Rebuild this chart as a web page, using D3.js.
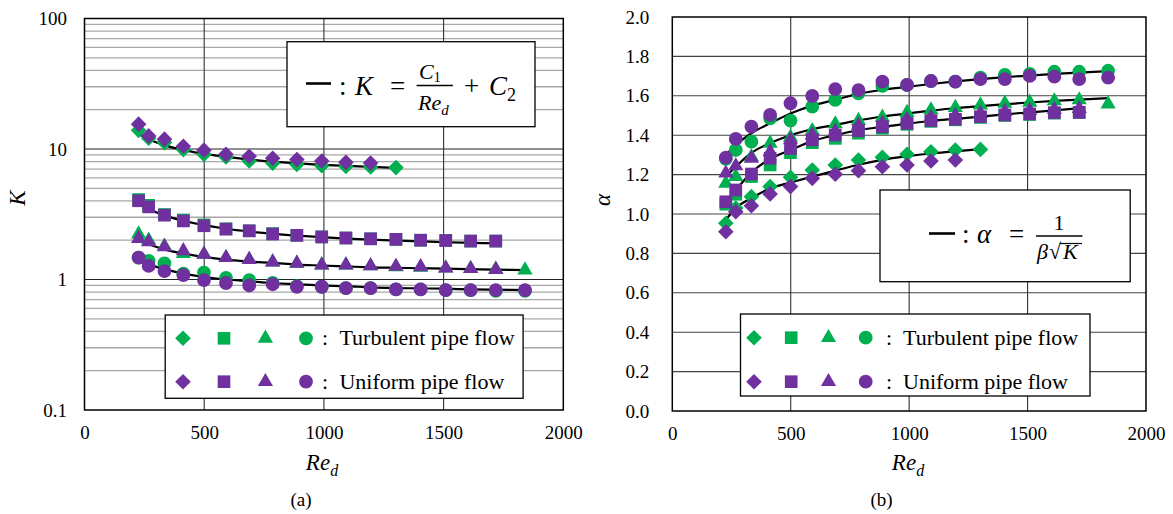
<!DOCTYPE html>
<html>
<head>
<meta charset="utf-8">
<script src="https://cdn.jsdelivr.net/npm/d3@7"></script>
<style>
  html, body { margin: 0; padding: 0; background: #fff; }
  svg text { font-family: "Liberation Serif", "Times New Roman", serif; fill: #000; }
</style>
</head>
<body>
<div id="chart"></div>
<script>
// Re_d positions shared by every series
const reX = [226, 268, 334, 413, 499, 591, 688, 786, 887, 991, 1092, 1195, 1301, 1404, 1509, 1613, 1718, 1840];

// (a) K values — turbulent (green) and uniform (purple) pipe flow
const kDiamondTurb = [13.9, 12.1, 11.2, 9.9, 9.1, 8.7, 8.1, 7.8, 7.62, 7.45, 7.35, 7.28, 7.2];
const kDiamondUnif = [15.5, 12.6, 11.9, 10.5, 9.8, 9.1, 8.8, 8.5, 8.3, 8.1, 7.9, 7.8];
const kSquareTurb  = [4.1, 3.7, 3.15, 2.86, 2.62, 2.45, 2.36, 2.25, 2.18, 2.12, 2.08, 2.05, 2.03, 2.0, 1.99, 1.97, 1.97];
const kSquareUnif  = [4.01, 3.6, 3.11, 2.81, 2.58, 2.43, 2.36, 2.23, 2.18, 2.12, 2.08, 2.05, 2.03, 2.0, 1.99, 1.97, 1.97];
const kTriTurb     = [2.23, 2.0, 1.8, 1.58, 1.56, 1.47, 1.42, 1.36, 1.33, 1.29, 1.29, 1.27, 1.25, 1.24, 1.22, 1.21, 1.2, 1.18];
const kTriUnif     = [2.06, 1.94, 1.78, 1.66, 1.56, 1.47, 1.42, 1.36, 1.33, 1.29, 1.29, 1.27, 1.26, 1.25, 1.22, 1.21, 1.19];
const kCircTurb    = [1.47, 1.39, 1.33, 1.11, 1.13, 1.03, 0.99, 0.94, 0.89, 0.88, 0.86, 0.86, 0.84, 0.84, 0.83, 0.83, 0.82, 0.82];
const kCircUnif    = [1.47, 1.27, 1.16, 1.08, 0.99, 0.94, 0.90, 0.92, 0.88, 0.88, 0.86, 0.86, 0.84, 0.84, 0.83, 0.83, 0.83, 0.83];

// (a) fitted curves K = C1/Re_d + C2
const kFitDiamond = [13.0, 11.9, 10.7, 9.8, 9.2, 8.7, 8.3, 8.0, 7.75, 7.56, 7.42, 7.29, 7.18];
const kFitSquare  = [3.82, 3.47, 3.10, 2.82, 2.61, 2.45, 2.33, 2.24, 2.17, 2.11, 2.06, 2.02, 1.99, 1.96, 1.93, 1.91, 1.89];
const kFitTri     = [2.0, 1.86, 1.70, 1.58, 1.49, 1.42, 1.37, 1.34, 1.30, 1.28, 1.26, 1.24, 1.23, 1.22, 1.21, 1.20, 1.19, 1.18];
const kFitCirc    = [1.41, 1.31, 1.20, 1.11, 1.05, 1.00, 0.97, 0.94, 0.92, 0.90, 0.89, 0.87, 0.86, 0.855, 0.85, 0.84, 0.835, 0.83];

// (b) alpha values
const aDiamondTurb = [0.953, 1.03, 1.088, 1.139, 1.186, 1.223, 1.249, 1.274, 1.288, 1.303, 1.316, 1.325, 1.328];
const aDiamondUnif = [0.910, 1.012, 1.042, 1.102, 1.139, 1.181, 1.202, 1.220, 1.240, 1.249, 1.269, 1.274];
const aSquareTurb  = [1.05, 1.10, 1.19, 1.249, 1.311, 1.362, 1.384, 1.41, 1.435, 1.455, 1.47, 1.478, 1.49, 1.50, 1.505, 1.512, 1.515];
const aSquareUnif  = [1.062, 1.122, 1.203, 1.283, 1.333, 1.376, 1.401, 1.423, 1.443, 1.460, 1.474, 1.481, 1.494, 1.503, 1.508, 1.514, 1.516];
const aTriTurb     = [1.156, 1.19, 1.29, 1.359, 1.389, 1.423, 1.457, 1.474, 1.491, 1.515, 1.528, 1.540, 1.553, 1.562, 1.567, 1.574, 1.579, 1.558];
const aTriUnif     = [1.207, 1.244, 1.283, 1.316, 1.376, 1.401, 1.42, 1.45, 1.46, 1.48, 1.49, 1.50, 1.51, 1.52, 1.525, 1.53, 1.535];
const aCircTurb    = [1.28, 1.325, 1.367, 1.486, 1.474, 1.545, 1.579, 1.613, 1.650, 1.655, 1.675, 1.672, 1.692, 1.706, 1.711, 1.722, 1.722, 1.727];
const aCircUnif    = [1.286, 1.381, 1.443, 1.503, 1.562, 1.599, 1.634, 1.629, 1.672, 1.655, 1.675, 1.672, 1.685, 1.685, 1.701, 1.697, 1.685, 1.692];

// (b) fitted curves alpha = 1/(beta*sqrt(K))
const aFitDiamond = [0.97, 1.03, 1.08, 1.13, 1.16, 1.19, 1.22, 1.25, 1.275, 1.293, 1.307, 1.318, 1.33];
const aFitSquare  = [1.05, 1.12, 1.21, 1.28, 1.325, 1.37, 1.40, 1.425, 1.443, 1.458, 1.472, 1.483, 1.494, 1.506, 1.516, 1.526, 1.537];
const aFitTri     = [1.19, 1.24, 1.31, 1.36, 1.40, 1.43, 1.452, 1.475, 1.495, 1.51, 1.525, 1.537, 1.548, 1.557, 1.566, 1.574, 1.581, 1.588];
const aFitCirc    = [1.30, 1.35, 1.41, 1.46, 1.51, 1.55, 1.58, 1.61, 1.63, 1.645, 1.66, 1.673, 1.685, 1.695, 1.703, 1.711, 1.718, 1.725];

const xTicks = [0, 500, 1000, 1500, 2000];
const kTicks = [0.1, 1, 10, 100];
const aTicks = [0, 0.2, 0.4, 0.6, 0.8, 1.0, 1.2, 1.4, 1.6, 1.8, 2.0];
const legendLabels = ['Turbulent pipe flow', 'Uniform pipe flow'];

const GREEN = '#00B050', PURPLE = '#7030A0';
const SERIF = '"Liberation Serif", "Times New Roman", serif';

const SYM = {
  diamond:  { type: d3.symbolSquare,   size: 122, rot: 45 },
  square:   { type: d3.symbolSquare,   size: 160, rot: 0 },
  triangle: { type: d3.symbolTriangle, size: 100, rot: 0 },
  circle:   { type: d3.symbolCircle,   size: 150, rot: 0 }
};

const svg = d3.select('#chart').append('svg')
  .attr('width', 1173).attr('height', 514)
  .style('display', 'block');
svg.append('rect').attr('width', 1173).attr('height', 514).attr('fill', '#fff');

const zip = (ys) => ys.map((v, i) => [reX[i], v]);

function drawMarkers(g, x, y, pts, shape, color) {
  const s = SYM[shape];
  const path = d3.symbol().type(s.type).size(s.size)();
  g.selectAll(null).data(pts).enter().append('path')
    .attr('d', path)
    .attr('fill', color)
    .attr('transform', d => `translate(${x(d[0])},${y(d[1])}) rotate(${s.rot})`);
}

function drawFit(g, x, y, pts) {
  g.append('path')
    .attr('d', d3.line().x(d => x(d[0])).y(d => y(d[1])).curve(d3.curveMonotoneX)(pts))
    .attr('fill', 'none').attr('stroke', '#000').attr('stroke-width', 2.2);
}

function drawLegend(g, box, mx, colonX, textX, rows) {
  g.append('rect').attr('x', box[0]).attr('y', box[1]).attr('width', box[2]).attr('height', box[3])
    .attr('fill', '#fff').attr('stroke', '#000').attr('stroke-width', 1.3);
  const shapes = ['diamond', 'square', 'triangle', 'circle'];
  [GREEN, PURPLE].forEach((c, r) => {
    shapes.forEach((sh, i) => {
      const s = SYM[sh];
      g.append('path').attr('d', d3.symbol().type(s.type).size(s.size)())
        .attr('fill', c)
        .attr('transform', `translate(${mx[i]},${rows[r]}) rotate(${s.rot})`);
    });
    g.append('text').attr('x', colonX).attr('y', rows[r] + 7).attr('font-size', 22).text(':');
    g.append('text').attr('x', textX).attr('y', rows[r] + 7).attr('font-size', 22).text(legendLabels[r]);
  });
}

function frame(g, x0, x1, y0, y1) {
  g.append('rect').attr('x', x0).attr('y', y0).attr('width', x1 - x0).attr('height', y1 - y0)
    .attr('fill', 'none').attr('stroke', '#000').attr('stroke-width', 1.5);
}

function reLabel(g, cx, y) {
  const t = g.append('text').attr('x', cx).attr('y', y).attr('text-anchor', 'middle')
    .attr('font-size', 23).attr('font-style', 'italic');
  t.append('tspan').text('Re');
  t.append('tspan').attr('font-size', 16).attr('dy', 6).text('d');
}

function styleTicks(sel) {
  sel.selectAll('text').attr('font-size', 19).attr('font-family', SERIF).attr('fill', '#000');
}

// ---------- (a) K vs Re_d ----------
{
  const x = d3.scaleLinear().domain([0, 2000]).range([84.5, 563.3]);
  const y = d3.scaleLog().domain([0.1, 100]).range([410, 18.5]);
  const g = svg.append('g');

  // minor log grid
  const minor = [];
  [0.1, 1, 10].forEach(d => { for (let m = 2; m <= 9; m++) minor.push(d * m); });
  g.selectAll(null).data(minor).enter().append('line')
    .attr('x1', x(0)).attr('x2', x(2000)).attr('y1', d => y(d)).attr('y2', d => y(d))
    .attr('stroke', '#a8a8a8').attr('stroke-width', 1.3);
  g.selectAll(null).data([1, 10]).enter().append('line')
    .attr('x1', x(0)).attr('x2', x(2000)).attr('y1', d => y(d)).attr('y2', d => y(d))
    .attr('stroke', '#222').attr('stroke-width', 1.1);
  g.selectAll(null).data([500, 1000, 1500]).enter().append('line')
    .attr('x1', d => x(d)).attr('x2', d => x(d)).attr('y1', y(0.1)).attr('y2', y(100))
    .attr('stroke', '#333').attr('stroke-width', 1.1);
  frame(g, x(0), x(2000), y(100), y(0.1));

  g.append('g').attr('transform', `translate(0,${y(0.1)})`)
    .call(d3.axisBottom(x).tickValues(xTicks).tickFormat(d3.format('d')).tickSize(0).tickPadding(16))
    .call(a => a.select('.domain').remove())
    .call(styleTicks);
  g.append('g').attr('transform', `translate(${x(0)},0)`)
    .call(d3.axisLeft(y).tickValues(kTicks).tickFormat(d => String(d)).tickSize(0).tickPadding(17.5))
    .call(a => a.select('.domain').remove())
    .call(styleTicks);

  [kFitDiamond, kFitSquare, kFitTri, kFitCirc].forEach(f => drawFit(g, x, y, zip(f)));

  drawMarkers(g, x, y, zip(kDiamondTurb), 'diamond', GREEN);
  drawMarkers(g, x, y, zip(kSquareTurb), 'square', GREEN);
  drawMarkers(g, x, y, zip(kTriTurb), 'triangle', GREEN);
  drawMarkers(g, x, y, zip(kCircTurb), 'circle', GREEN);
  drawMarkers(g, x, y, zip(kDiamondUnif), 'diamond', PURPLE);
  drawMarkers(g, x, y, zip(kSquareUnif), 'square', PURPLE);
  drawMarkers(g, x, y, zip(kTriUnif), 'triangle', PURPLE);
  drawMarkers(g, x, y, zip(kCircUnif), 'circle', PURPLE);

  // equation box: — : K = C1/Re_d + C2
  g.append('rect').attr('x', 287).attr('y', 41.7).attr('width', 248).attr('height', 85)
    .attr('fill', '#fff').attr('stroke', '#000').attr('stroke-width', 1.3);
  g.append('line').attr('x1', 306).attr('x2', 331).attr('y1', 83.5).attr('y2', 83.5)
    .attr('stroke', '#000').attr('stroke-width', 2.6);
  g.append('text').attr('x', 339).attr('y', 95).attr('font-size', 27).text(':');
  g.append('text').attr('x', 355).attr('y', 95).attr('font-size', 27).attr('font-style', 'italic').text('K');
  g.append('text').attr('x', 397.5).attr('y', 95).attr('font-size', 27).attr('text-anchor', 'middle').text('=');
  const num = g.append('text').attr('x', 419).attr('y', 78.5).attr('font-size', 22).attr('font-style', 'italic');
  num.append('tspan').text('C');
  num.append('tspan').attr('font-size', 14).attr('font-style', 'normal').attr('dy', 3).text('1');
  g.append('line').attr('x1', 416.6).attr('x2', 452.9).attr('y1', 85.5).attr('y2', 85.5)
    .attr('stroke', '#000').attr('stroke-width', 1.4);
  const den = g.append('text').attr('x', 418).attr('y', 110).attr('font-size', 22).attr('font-style', 'italic');
  den.append('tspan').text('Re');
  den.append('tspan').attr('font-size', 15).attr('dy', 5).text('d');
  g.append('text').attr('x', 471.5).attr('y', 95).attr('font-size', 27).attr('text-anchor', 'middle').text('+');
  const c2 = g.append('text').attr('x', 489).attr('y', 95).attr('font-size', 27).attr('font-style', 'italic');
  c2.append('tspan').text('C');
  c2.append('tspan').attr('font-size', 18).attr('font-style', 'normal').attr('dy', 6).text('2');

  drawLegend(g, [165.2, 315, 357.9, 83.3], [183, 224, 265.4, 306], 322, 339.4, [338.3, 381.7]);

  g.append('text').attr('transform', 'translate(25,198) rotate(-90)').attr('text-anchor', 'middle')
    .attr('font-size', 23).attr('font-style', 'italic').text('K');
  reLabel(g, 322, 470);
  g.append('text').attr('x', 301).attr('y', 506).attr('text-anchor', 'middle').attr('font-size', 19).text('(a)');
}

// ---------- (b) alpha vs Re_d ----------
{
  const x = d3.scaleLinear().domain([0, 2000]).range([672.3, 1146]);
  const y = d3.scaleLinear().domain([0, 2]).range([411, 17]);
  const g = svg.append('g');

  g.selectAll(null).data(aTicks.slice(1, -1)).enter().append('line')
    .attr('x1', x(0)).attr('x2', x(2000)).attr('y1', d => y(d)).attr('y2', d => y(d))
    .attr('stroke', '#444').attr('stroke-width', 1.1);
  g.selectAll(null).data([500, 1000, 1500]).enter().append('line')
    .attr('x1', d => x(d)).attr('x2', d => x(d)).attr('y1', y(0)).attr('y2', y(2))
    .attr('stroke', '#333').attr('stroke-width', 1.1);
  frame(g, x(0), x(2000), y(2), y(0));

  g.append('g').attr('transform', `translate(0,${y(0)})`)
    .call(d3.axisBottom(x).tickValues(xTicks).tickFormat(d3.format('d')).tickSize(0).tickPadding(16))
    .call(a => a.select('.domain').remove())
    .call(styleTicks);
  g.append('g').attr('transform', `translate(${x(0)},0)`)
    .call(d3.axisLeft(y).tickValues(aTicks).tickFormat(d3.format('.1f')).tickSize(0).tickPadding(23))
    .call(a => a.select('.domain').remove())
    .call(styleTicks);

  [aFitDiamond, aFitSquare, aFitTri, aFitCirc].forEach(f => drawFit(g, x, y, zip(f)));

  drawMarkers(g, x, y, zip(aDiamondTurb), 'diamond', GREEN);
  drawMarkers(g, x, y, zip(aSquareTurb), 'square', GREEN);
  drawMarkers(g, x, y, zip(aTriTurb), 'triangle', GREEN);
  drawMarkers(g, x, y, zip(aCircTurb), 'circle', GREEN);
  drawMarkers(g, x, y, zip(aDiamondUnif), 'diamond', PURPLE);
  drawMarkers(g, x, y, zip(aSquareUnif), 'square', PURPLE);
  drawMarkers(g, x, y, zip(aTriUnif), 'triangle', PURPLE);
  drawMarkers(g, x, y, zip(aCircUnif), 'circle', PURPLE);

  // equation box: — : α = 1/(β√K)
  g.append('rect').attr('x', 880).attr('y', 190).attr('width', 250.2).attr('height', 91.7)
    .attr('fill', '#fff').attr('stroke', '#000').attr('stroke-width', 1.3);
  g.append('line').attr('x1', 929).attr('x2', 955).attr('y1', 233.5).attr('y2', 233.5)
    .attr('stroke', '#000').attr('stroke-width', 2.6);
  g.append('text').attr('x', 962).attr('y', 243).attr('font-size', 27).text(':');
  g.append('text').attr('x', 977).attr('y', 243).attr('font-size', 27).attr('font-style', 'italic').text('α');
  g.append('text').attr('x', 1016.5).attr('y', 243).attr('font-size', 27).attr('text-anchor', 'middle').text('=');
  g.append('text').attr('x', 1059).attr('y', 230).attr('font-size', 22).attr('text-anchor', 'middle').text('1');
  g.append('line').attr('x1', 1036).attr('x2', 1082.5).attr('y1', 236).attr('y2', 236)
    .attr('stroke', '#000').attr('stroke-width', 1.4);
  g.append('text').attr('x', 1037).attr('y', 259).attr('font-size', 22).attr('font-style', 'italic').text('β');
  g.append('text').attr('x', 1049).attr('y', 259).attr('font-size', 22).text('√');
  g.append('text').attr('x', 1063).attr('y', 259).attr('font-size', 22).attr('font-style', 'italic').text('K');
  g.append('line').attr('x1', 1060).attr('x2', 1082).attr('y1', 243.5).attr('y2', 243.5)
    .attr('stroke', '#000').attr('stroke-width', 1.2);

  drawLegend(g, [740.5, 314, 349.5, 82], [754, 791.2, 828.5, 865.7], 886, 903, [337.7, 381.7]);

  g.append('text').attr('transform', 'translate(610,200) rotate(-90)').attr('text-anchor', 'middle')
    .attr('font-size', 23).attr('font-style', 'italic').text('α');
  reLabel(g, 908, 470);
  g.append('text').attr('x', 881.5).attr('y', 506).attr('text-anchor', 'middle').attr('font-size', 19).text('(b)');
}
</script>
</body>
</html>
